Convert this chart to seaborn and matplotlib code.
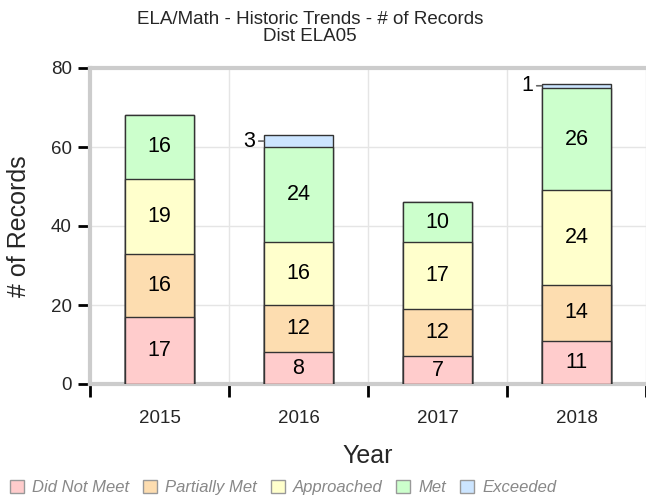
"""
Stacked bar chart of ELA/Math record counts by performance level and year.
"""

import numpy as np
import pandas as pd
import matplotlib
matplotlib.use("Agg")
import matplotlib.pyplot as plt
import seaborn as sns
from matplotlib.patches import Patch

years = ["2015", "2016", "2017", "2018"]
levels = ["Did Not Meet", "Partially Met", "Approached", "Met", "Exceeded"]
did_not_meet = [17, 8, 7, 11]
partially_met = [16, 12, 12, 14]
approached = [19, 16, 17, 24]
met = [16, 24, 10, 26]
exceeded = [0, 3, 0, 1]

colors = ["#FFCCCC", "#FDDDB0", "#FFFFCC", "#CCFFCC", "#CCE5FF"]

df = pd.DataFrame({
    "year": years,
    "Did Not Meet": did_not_meet,
    "Partially Met": partially_met,
    "Approached": approached,
    "Met": met,
    "Exceeded": exceeded,
})

sns.set_theme(style="white")
plt.rcParams["font.family"] = ["Liberation Sans", "DejaVu Sans"]

fig = plt.figure(figsize=(6.46, 4.99), dpi=100)
ax = fig.add_axes([90 / 646, 115 / 499, 556 / 646, 316 / 499])

# cumulative tops, drawn from the top level down so lower levels overlay
cum = df[levels].cumsum(axis=1)
for lvl, col in reversed(list(zip(levels, colors))):
    sns.barplot(x=df["year"], y=cum[lvl], color=col, width=0.5,
                edgecolor="#333333", linewidth=1.0, saturation=1, ax=ax, zorder=3)

# segment labels
for i, yr in enumerate(years):
    bottom = 0
    for lvl in levels:
        v = df.loc[i, lvl]
        if v == 0:
            continue
        mid = bottom + v / 2
        if v >= 5:
            ax.text(i, mid, str(v), ha="center", va="center", fontsize=15.5,
                    color="black", zorder=5)
        else:
            ax.annotate(str(v), xy=(i - 0.25, mid), xytext=(-6, 0),
                        textcoords="offset points", ha="right", va="center",
                        fontsize=15.5, color="black",
                        arrowprops=dict(arrowstyle="-", color="#666666", lw=1.2,
                                        shrinkA=0, shrinkB=0), zorder=5)
        bottom += v

ax.set_xlim(-0.5, 3.5)
ax.set_ylim(0, 80)
ax.set_yticks([0, 20, 40, 60, 80])
ax.set_xticks([-0.5, 0.5, 1.5, 2.5, 3.5])
ax.set_xticklabels([])
ax.set_xticks(range(len(years)), minor=True)
ax.set_xticklabels(years, minor=True, fontsize=13.5)
ax.tick_params(axis="x", which="minor", length=0, pad=19)
ax.tick_params(axis="x", which="major", length=9, width=2, color="black",
               direction="out", bottom=True)
ax.tick_params(axis="y", length=9, width=2, color="black", direction="out",
               left=True, labelsize=13.5, pad=4)

ax.grid(True, axis="y", color="#E5E5E5", linewidth=1, zorder=0)
ax.grid(True, axis="x", which="major", color="#E5E5E5", linewidth=1, zorder=0)
ax.set_axisbelow(True)

for side in ["left", "bottom", "top"]:
    ax.spines[side].set_color("#CCCCCC")
    ax.spines[side].set_linewidth(3)
ax.spines["right"].set_visible(False)

ax.set_xlabel("Year", fontsize=18, labelpad=12)
ax.set_ylabel("# of Records", fontsize=18, labelpad=14)
fig.text(310 / 646, 1 - 11 / 499,
         "ELA/Math - Historic Trends - # of Records\nDist ELA05",
         ha="center", va="top", fontsize=13.5, linespacing=1.0)

handles = [Patch(facecolor=c, edgecolor="#999999", linewidth=1) for c in colors]
fig.legend(handles, levels, loc="lower left", bbox_to_anchor=(0.0, -0.012),
           ncol=5, frameon=False, handlelength=0.85, handleheight=0.85,
           handletextpad=0.5, columnspacing=0.8, borderaxespad=0.2,
           prop={"style": "italic", "size": 12}, labelcolor="#888888")

fig.savefig("out.png", dpi=100)
